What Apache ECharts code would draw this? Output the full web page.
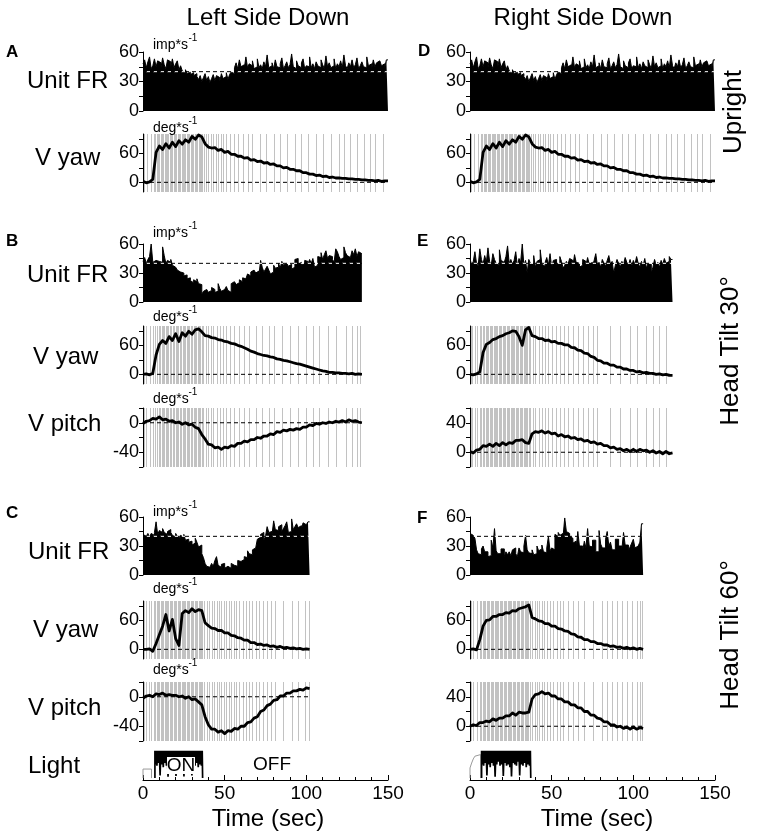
<!DOCTYPE html>
<html><head><meta charset="utf-8">
<script src="https://cdn.jsdelivr.net/npm/echarts@6/dist/echarts.min.js"></script>
<style>html,body{margin:0;padding:0;background:#fff}#c{width:758px;height:837px}</style>
</head><body><div id="c"></div>
<script>
// ---------------- DATA ----------------
const TIME_TICKS = [0, 50, 100, 150];
const FR_REF = 40;            // dashed reference rate (imp/s)
const VEL_REF = 0;            // dashed zero velocity
// recording durations (s)
const DUR_A = 150, DUR_B = 134, DUR_C = 102, DUR_E = 124, DUR_F = 106;

// Unit firing rate histograms (1-s bins), imp/s
const FR_A = [48,52,44,50,55,43,46,53,45,51,49,44,54,47,43,52,50,45,53,44,48,51,42,46,
  41,39,42,38,40,37,39,36,38,35,
  32,36,30,34,38,31,35,29,33,37,31,36,34,30,38,33,35,39,32,37,40,38,
  44,49,43,52,45,47,43,55,44,48,46,51,43,45,53,44,47,43,50,45,
  57,44,46,49,43,52,45,44,48,54,43,46,50,44,47,58,45,43,51,46,
  44,49,53,43,46,45,55,44,48,43,50,46,44,52,47,43,56,45,49,44,
  46,53,43,48,45,51,44,57,46,43,49,45,52,44,47,54,43,46,50,45,
  44,55,46,48,43,52,45,49,51,53,46,48,44,52];
const FR_B = [42,46,40,44,47,60,41,43,45,42, 44,41,57,48,40,43,41,44,38,36, 37,33,31,29,30,27,28,24,25,22,
  20,23,21,24,19,18,8,11,13,14, 10,12,15,13,10,11,19,14,11,13, 14,16,12,10,19,21,22,18,20,23,
  21,25,24,26,29,27,31,33,35,30, 32,28,43,36,31,34,37,33,29,31, 38,35,36,40,35,42,38,40,42,37,
  39,34,36,44,45,39,41,38,40,43, 42,39,44,40,45,36,38,47,46,51, 44,49,53,45,48,47,44,41,55,52,
  47,44,46,57,51,48,46,44,53,49, 55,47,52,50];
const FR_C = [42,40,41,43,39,43,41,44,55,42, 46,44,48,44,42,45,47,44,41,39, 43,40,38,41,39,42,36,37,34,35,
  31,33,38,34,29,31,22,18,12,9, 8,10,12,9,15,19,10,8,11,12, 7,9,8,7,12,10,11,9,15,14,
  13,16,19,18,25,22,21,26,28,30, 37,39,42,44,36,40,50,44,45,42, 56,47,46,50,52,45,48,51,55,44,
  45,58,47,50,53,49,51,47,54,52, 50,55];
const FR_E = [45,38,42,52,40,37,55,44,39,48, 41,56,42,38,50,44,40,38,54,43, 41,39,47,58,40,44,39,43,52,37,
  45,41,60,38,43,30,44,40,39,48, 36,42,44,54,39,37,41,46,38,50, 36,43,44,39,40,47,42,35,38,42,
  39,45,43,37,49,41,40,36,38,44, 42,38,46,39,41,37,43,50,38,41, 36,44,40,37,43,48,39,42,30,38,
  44,40,36,42,39,46,41,38,44,37, 43,39,47,40,36,42,38,45,35,40, 39,30,36,44,38,41,36,43,39,45,
  40,42,47,44];
const FR_F = [43,41,40,38,26,22,21,27,30,24, 24,19,20,36,28,48,25,22,22,27, 27,19,24,21,24,20,26,28,22,19,
  28,24,23,30,41,26,23,22,26,21, 22,30,25,27,31,24,23,28,40,25, 28,26,42,40,44,41,43,40,59,45,
  43,40,38,33,35,27,45,30,30,25, 35,28,48,30,29,36,36,24,24,46, 32,28,28,37,45,30,34,26,26,37,
  37,30,30,27,44,31,31,25,29,33, 37,28,30,31,34,53];

// Eye velocity traces (deg/s), samples evenly spaced over each recording
const YAW_A = [2,-1,1,6,62,75,68,80,71,83,74,86,79,88,83,95,89,98,94,80,73,71,72,66,68,62,64,58,58,54,54,50,51,46,47,43,44,40,41,37,
  38,34,34,30,31,27,27,24,24,20,20,17,17,14,15,12,13,10,11,9,9,8,8,7,7,6,6,5,5,4,4,3,4,2,3,3];
const YAW_B = [0,1,-1,2,40,62,70,64,78,70,84,68,86,79,89,83,92,94,88,80,79,76,75,72,71,68,67,64,63,60,58,55,52,48,46,43,41,39,38,36,
  35,32,31,29,28,26,24,22,21,19,17,15,13,11,9,7,6,4,4,3,3,2,2,1,2,0,1,0];
const PITCH_B = [-1,2,3,6,5,8,4,5,2,3,0,1,-2,0,-3,-2,-6,-8,-16,-22,-29,-30,-34,-33,-36,-33,-34,-31,-32,-28,-28,-25,-26,-23,-23,-20,-21,-18,-18,-15,
  -16,-12,-13,-10,-11,-9,-10,-8,-9,-6,-6,-3,-4,-1,-2,0,-1,1,0,2,1,3,1,4,2,3,1,0];
const YAW_E = [0,-1,1,5,45,62,66,72,74,78,80,84,86,90,89,78,60,92,97,80,78,74,74,70,71,67,68,64,64,61,61,56,55,50,49,44,43,37,35,29,
  28,23,23,19,19,15,15,11,11,8,8,5,6,3,4,2,2,0,1,-1,0,-2,-2];
const PITCH_E = [1,-1,3,4,9,8,11,8,12,9,13,10,13,12,16,16,17,13,12,25,28,27,29,26,28,25,26,22,24,21,22,19,20,17,18,15,16,13,14,11,
  12,9,9,6,7,4,5,2,4,1,4,1,4,2,3,0,2,-1,1,-2,1,-2,-1];
const YAW_C = [0,0,1,-4,12,30,48,72,38,62,22,8,74,80,76,84,78,82,80,55,49,44,43,39,39,34,34,29,28,24,23,19,19,14,14,10,11,8,9,6,
  7,4,6,3,4,2,3,1,2,0,1,0];
const PITCH_C = [-2,1,2,0,4,3,5,2,3,2,2,0,1,-2,0,-4,-3,-7,-11,-27,-38,-44,-44,-48,-46,-50,-46,-47,-43,-44,-40,-40,-35,-34,-29,-27,-20,-18,-12,-10,
  -5,-4,1,1,5,5,8,8,10,9,12,11];
const YAW_F = [0,1,-1,20,48,60,61,68,68,72,72,76,75,80,79,84,86,88,92,66,63,59,58,53,53,48,48,43,42,38,37,32,31,26,25,20,20,16,16,12,
  12,9,9,6,7,4,5,2,4,1,3,0,2,0];
const PITCH_F = [0,2,1,5,5,7,6,10,8,11,11,14,14,18,15,19,18,18,19,37,43,44,47,44,45,41,41,37,37,33,33,29,29,25,25,20,20,15,15,11,
  10,6,6,2,2,-1,0,-3,-1,-4,-1,-4,-2,-3];

// Times (s) of quick-phase / artefact events drawn as gray vertical lines
const SPK_A = [0.5,2.5,5,6.5,7.5,8.5,9.3,10,10.8,11.6,12.4,13.2,14,14.8,15.6,16.4,17.2,18,18.8,19.6,20.4,21.2,22,22.8,23.6,24.4,25.2,26,26.8,
  27.6,28.4,29.2,30,30.8,31.6,32.4,33.2,34,34.8,35.6,36.4,37.2,38.5,40,41.5,43,44.5,46,47.5,49,51,53,55.5,58,61,64,67,71.5,75,80,84,88,93,97,
  101,106,110,115,120,123,127,131,135,139,142,147];
const SPK_B = [0.5,2,4,6,7.5,8.5,9.5,10.5,11.5,12.3,13.1,14,14.8,15.6,16.5,17.3,18.2,19,20,20.8,21.6,22.5,23.3,24.2,25,25.8,26.7,27.5,28.4,
  29.2,30,31,31.8,32.6,33.5,34.3,35.2,36,37,38.5,40,41.5,43,45,47,49,51,53.5,56,59,62,65,69,73,77,80,85,90,95,100,104,108,113,118,124,128,131,133];
const SPK_C = [0.5,2,3.5,5,6.5,7.5,8.3,9.1,10,10.8,11.6,12.4,13.2,14,14.8,15.6,16.4,17.2,18,18.8,19.6,20.4,21.2,22,22.8,23.6,24.4,25.2,26,
  26.8,27.6,28.4,29.2,30,30.8,31.6,32.4,33.2,34,34.8,35.6,36.4,37.5,39,40.5,42,43.5,45,46.5,48,49.5,51,52.5,54,55.5,57,59,61,63,65,67,69,71,
  73.5,76,78.5,81,86,91,95,99,101.5];
const SPK_E = [0.5,1.5,3,4.5,6,7,8,8.8,9.6,10.4,11.2,12,12.8,13.6,14.4,15.2,16,16.8,17.6,18.4,19.2,20,20.8,21.6,22.4,23.2,24,24.8,25.6,26.4,
  27.2,28,28.8,29.6,30.4,31.2,32,32.8,33.6,34.4,35.2,36,37,38.5,40,42,44,46,48,50,52.5,55,57.5,60,63,66,69,72,75,78,86,92,98,102,108,112,116,120];
const SPK_F = [0.5,2,4,6,7,7.8,8.6,9.4,10.2,11,11.8,12.6,13.4,14.2,15,15.8,16.6,17.4,18.2,19,19.8,20.6,21.4,22.2,23,23.8,24.6,25.4,26.2,27,
  27.8,28.6,29.4,30.2,31,31.8,32.6,33.4,34.2,35,35.8,36.6,38,39.5,41,42.5,44,45.5,47,49,51,53,55,57,60,63,66,70,75,81,84,87,90,93,96,99,102,104,105.5];

// Light stimulus: pre-pulse (gray), ON period and flicker levels (normalised)
const PRE_L_T = [0, 0, 5.2, 5.2], PRE_L_V = [0, 0.33, 0.33, 0];
const PRE_R_T = [0, 0, 1, 2, 3, 4.1, 6.5, 6.5], PRE_R_V = [0, 0.37, 0.55, 0.7, 0.8, 0.86, 0.86, 0];
const LIGHT_ON_L = [7.3, 36.5], LIGHT_ON_R = [7.1, 37.2];
const LIGHT_OSC = [1,0.5,1,0.45,1,0.55,1,0.1,1,0.5,1,0.4,1,0.55,1,0.45,1,0.05,1,0.5,1,0.6,1,0.45,1,0.5,1,0.08,1,0.55,
  1,0.45,1,0.5,1,0.4,1,0.06,1,0.55,1,0.5,1,0.45,1,0.6,1,0.1,1,0.5,1,0.45,1,0.55,1,0.4,1,0.5,1,0.45,1];

// ---------------- BUILD ----------------
const FONT = 'Liberation Sans, Arial, Helvetica, sans-serif';
const L = 143, R = 470, W = 245;
const panels = [
  {x:L, top:52,  h:59, type:'fr', vals:FR_A, dur:DUR_A},
  {x:L, top:134, h:58, type:'yaw', vals:YAW_A, dur:DUR_A, spk:SPK_A},
  {x:R, top:52,  h:59, type:'fr', vals:FR_A, dur:DUR_A},
  {x:R, top:134, h:58, type:'yaw', vals:YAW_A, dur:DUR_A, spk:SPK_A},
  {x:L, top:244, h:58, type:'fr', vals:FR_B, dur:DUR_B},
  {x:L, top:326, h:58, type:'yaw', vals:YAW_B, dur:DUR_B, spk:SPK_B},
  {x:L, top:408, h:59, type:'pitchL', vals:PITCH_B, dur:DUR_B, spk:SPK_B},
  {x:R, top:244, h:58, type:'fr', vals:FR_E, dur:DUR_E},
  {x:R, top:326, h:58, type:'yaw', vals:YAW_E, dur:DUR_E, spk:SPK_E},
  {x:R, top:408, h:59, type:'pitchR', vals:PITCH_E, dur:DUR_E, spk:SPK_E},
  {x:L, top:517, h:58, type:'fr', vals:FR_C, dur:DUR_C},
  {x:L, top:601, h:58, type:'yaw', vals:YAW_C, dur:DUR_C, spk:SPK_C},
  {x:L, top:682, h:59, type:'pitchL', vals:PITCH_C, dur:DUR_C, spk:SPK_C},
  {x:R, top:517, h:58, type:'fr', vals:FR_F, dur:DUR_F},
  {x:R, top:601, h:58, type:'yaw', vals:YAW_F, dur:DUR_F, spk:SPK_F},
  {x:R, top:682, h:59, type:'pitchR', vals:PITCH_F, dur:DUR_F, spk:SPK_F},
  {x:L, top:748, h:32, type:'light', preT:PRE_L_T, preV:PRE_L_V, on:LIGHT_ON_L},
  {x:R, top:748, h:32, type:'light', preT:PRE_R_T, preV:PRE_R_V, on:LIGHT_ON_R}
];

const grids = [], xAxes = [], yAxes = [], series = [];
const axLine = {show:true, onZero:false, lineStyle:{color:'#000', width:1}};
const yLab = {fontSize:18, color:'#000', fontFamily:FONT, margin:4};

panels.forEach((p, i) => {
  grids.push({left:p.x, top:p.top, width:W, height:p.h});
  if (p.type === 'light') {
    xAxes.push({type:'value', gridIndex:i, min:0, max:150, interval:50,
      axisLine:axLine, axisTick:{show:true, inside:true, length:5, lineStyle:{color:'#000'}},
      minorTick:{show:true, splitNumber:5, length:3, lineStyle:{color:'#000'}},
      axisLabel:{fontSize:19, color:'#000', fontFamily:FONT, margin:4,
        formatter: v => TIME_TICKS.includes(v) ? String(v) : ''},
      splitLine:{show:false}, minorSplitLine:{show:false}});
    yAxes.push({type:'value', gridIndex:i, min:-0.07, max:1.1, show:false});
  } else {
    xAxes.push({type:'value', gridIndex:i, min:0, max:150, show:false});
    let y;
    if (p.type === 'fr') {
      y = {min:0, max:60, interval:15, axisLabel:Object.assign({}, yLab, {formatter: v => v % 30 === 0 ? String(v) : ''})};
    } else if (p.type === 'yaw') {
      y = {min:-20, max:100, axisTick:{show:true, length:4, customValues:[0,30,60,90], lineStyle:{color:'#000'}},
           axisLabel:Object.assign({}, yLab, {customValues:[0,60]})};
    } else if (p.type === 'pitchL') {
      y = {min:-60, max:20, interval:20, axisLabel:Object.assign({}, yLab, {formatter: v => (v === 0 || v === -40) ? String(v) : ''})};
    } else {
      y = {min:-20, max:60, interval:20, axisLabel:Object.assign({}, yLab, {formatter: v => (v === 0 || v === 40) ? String(v) : ''})};
    }
    yAxes.push(Object.assign({type:'value', gridIndex:i, axisLine:axLine,
      axisTick:{show:true, length:4, lineStyle:{color:'#000'}}, splitLine:{show:false}}, y));
  }

  const base = {xAxisIndex:i, yAxisIndex:i, symbol:'none', silent:true, animation:false};
  if (p.type === 'fr') {
    const n = p.vals.length;
    const d = p.vals.map((v, k) => [k * p.dur / n, v]).concat([[p.dur, p.vals[n - 1]]]);
    series.push(Object.assign({type:'line', step:'end', data:d, z:2,
      lineStyle:{color:'#000', width:1}, areaStyle:{color:'#000', opacity:1}}, base));
    const ref = [[0, FR_REF], [p.dur, FR_REF]];
    series.push(Object.assign({type:'line', data:ref, z:3, lineStyle:{color:'#fff', width:1, type:[4,3], dashOffset:4}}, base));
    series.push(Object.assign({type:'line', data:ref, z:4, lineStyle:{color:'#000', width:1, type:[4,3]}}, base));
  } else if (p.type === 'light') {
    series.push(Object.assign({type:'line', data:p.preT.map((t, k) => [t, p.preV[k]]), z:2,
      lineStyle:{color:'#999', width:1}}, base));
    const n = LIGHT_OSC.length, t0 = p.on[0], t1 = p.on[1];
    const d = [[t0, 0]].concat(LIGHT_OSC.map((v, k) => [t0 + k * (t1 - t0) / (n - 1), v])).concat([[t1, 0]]);
    series.push(Object.assign({type:'line', step:'middle', data:d, z:3, lineStyle:{color:'#000', width:1.7}}, base));
  } else {
    series.push({type:'custom', xAxisIndex:i, yAxisIndex:i, silent:true, animation:false, z:1,
      data:p.spk.map(t => [t, 0]),
      renderItem:(params, api) => {
        const pt = api.coord([api.value(0), 0]);
        const cs = params.coordSys;
        const x = Math.round(pt[0]) + 0.5;
        return {type:'line', shape:{x1:x, y1:cs.y, x2:x, y2:cs.y + cs.height}, style:{stroke:'#c2c2c2', lineWidth:1}};
      }});
    series.push(Object.assign({type:'line', data:[[0, VEL_REF], [p.dur, VEL_REF]], z:2,
      lineStyle:{color:'#000', width:1, type:[4,3]}}, base));
    const n = p.vals.length;
    series.push(Object.assign({type:'line', data:p.vals.map((v, k) => [k * p.dur / (n - 1), v]), z:3,
      lineStyle:{color:'#000', width:2.8, join:'round'}}, base));
  }
});

// ---------------- TEXT ----------------
function txt(x, y, s, size, o) {
  o = o || {};
  const el = {type:'text', x:x, y:y, z:100, silent:true,
    style:{text:s, fontSize:size, fontFamily:FONT, fill:'#000', fontWeight:o.bold ? 'bold' : 'normal',
      textAlign:o.align || 'left', textVerticalAlign:'middle'}};
  if (o.rot != null) el.rotation = o.rot;
  return el;
}
const g = [];
g.push(txt(268, 18.5, 'Left Side Down', 24, {align:'center'}));
g.push(txt(583, 18.5, 'Right Side Down', 24, {align:'center'}));
[['A',6,52],['B',6,241],['C',6,513],['D',418,51.5],['E',417,241.5],['F',417,518]].forEach(a => g.push(txt(a[1], a[2], a[0], 17, {bold:true})));
[['Unit FR',27,81],['V yaw',35,158],['Unit FR',27,275],['V yaw',33,357.5],['V pitch',28,424.5],
 ['Unit FR',28,552.5],['V yaw',33,630.5],['V pitch',28,708],['Light',28,766]].forEach(a => g.push(txt(a[1], a[2], a[0], 24)));
[['imp*s',45],['deg*s',128],['imp*s',233],['deg*s',317],['deg*s',399],['imp*s',512],['deg*s',589],['deg*s',670]].forEach(a => {
  g.push(txt(153, a[1], a[0], 14));
  g.push(txt(188.5, a[1] - 7, '-1', 10));
});
g.push(txt(734, 112, 'Upright', 26, {align:'center', rot:Math.PI / 2}));
g.push(txt(731, 351, 'Head Tilt 30°', 26, {align:'center', rot:Math.PI / 2}));
g.push(txt(731, 635, 'Head Tilt 60°', 26, {align:'center', rot:Math.PI / 2}));
g.push(txt(268, 819, 'Time (sec)', 24, {align:'center'}));
g.push(txt(597, 819, 'Time (sec)', 24, {align:'center'}));
g.push({type:'rect', z:99, silent:true, shape:{x:167, y:757, width:28, height:17}, style:{fill:'#fff'}});
g.push(txt(181, 766, 'ON', 19, {align:'center'}));
g.push(txt(272, 765, 'OFF', 19, {align:'center'}));

const chart = echarts.init(document.getElementById('c'), null, {renderer:'canvas'});
chart.setOption({animation:false, backgroundColor:'#fff', grid:grids, xAxis:xAxes, yAxis:yAxes, series:series, graphic:g});
</script></body></html>
